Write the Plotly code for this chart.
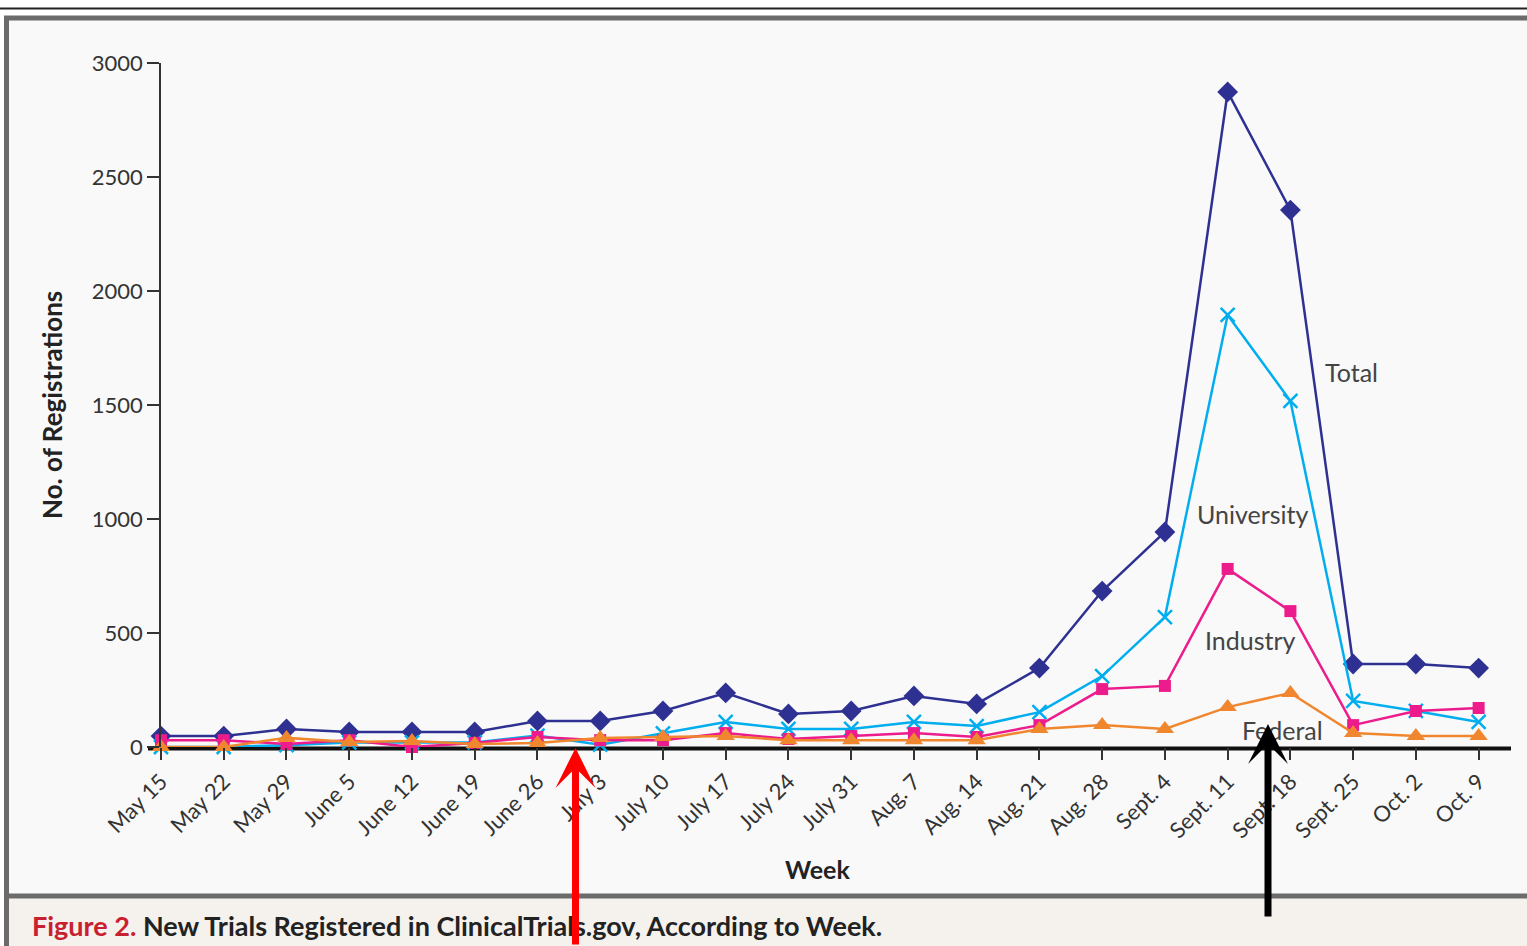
import plotly.graph_objects as go

weeks = ["May 15", "May 22", "May 29", "June 5", "June 12", "June 19", "June 26",
         "July 3", "July 10", "July 17", "July 24", "July 31", "Aug. 7", "Aug. 14",
         "Aug. 21", "Aug. 28", "Sept. 4", "Sept. 11", "Sept. 18", "Sept. 25",
         "Oct. 2", "Oct. 9"]
total = [48, 48, 79, 66, 66, 66, 114, 114, 158, 237, 145, 158, 224, 189, 346, 684,
         943, 2873, 2355, 364, 364, 346]
university = [0, 0, 8, 20, 20, 20, 50, 10, 60, 110, 79, 79, 110, 92, 153, 311,
              570, 1895, 1518, 202, 158, 110]
industry = [30, 30, 13, 30, 0, 18, 44, 30, 30, 61, 35, 48, 61, 44, 96, 254,
            268, 781, 596, 96, 158, 171]
federal = [0, 0, 40, 22, 26, 13, 18, 40, 44, 48, 30, 30, 30, 30, 79, 96,
           79, 175, 237, 61, 48, 48]
yticks = [0, 500, 1000, 1500, 2000, 2500, 3000]

W, H = 1527, 946
L, R, T, B = 161, 17, 63, 199
PW, PH = W - L - R, H - T - B


def px(x):
    return (x - L) / PW


def py(y):
    return (H - B - y) / PH


FONT = "Lato"
xi = list(range(len(weeks)))

fig = go.Figure()
fig.add_trace(go.Scatter(x=xi, y=total, mode="lines+markers", name="Total",
                         line=dict(color="#2e3192", width=2.5),
                         marker=dict(symbol="diamond", size=16, color="#2e3192"),
                         cliponaxis=False))
fig.add_trace(go.Scatter(x=xi, y=university, mode="lines+markers", name="University",
                         line=dict(color="#00aeef", width=2.5),
                         marker=dict(symbol="x-thin", size=14,
                                     line=dict(color="#00aeef", width=2.5)),
                         cliponaxis=False))
fig.add_trace(go.Scatter(x=xi, y=industry, mode="lines+markers", name="Industry",
                         line=dict(color="#ec1c8c", width=2.5),
                         marker=dict(symbol="square", size=12, color="#ec1c8c"),
                         cliponaxis=False))
fig.add_trace(go.Scatter(x=xi, y=federal, mode="lines+markers", name="Federal",
                         line=dict(color="#f0862e", width=2.5),
                         marker=dict(symbol="triangle-up", size=16, color="#f0862e"),
                         cliponaxis=False))

shapes = [
    # top rule
    dict(type="line", xref="paper", yref="paper", x0=px(0), x1=px(W), y0=py(8.5), y1=py(8.5),
         line=dict(color="#222222", width=2), layer="below"),
    # panel
    dict(type="rect", xref="paper", yref="paper", x0=px(6.5), x1=px(W + 20), y0=py(18), y1=py(H + 20),
         fillcolor="#f9f9f9", line=dict(color="#6b6b6b", width=5), layer="below"),
    # caption area
    dict(type="rect", xref="paper", yref="paper", x0=px(9), x1=px(W + 20), y0=py(898), y1=py(H + 20),
         fillcolor="#f5f2ee", line=dict(width=0), layer="below"),
    dict(type="line", xref="paper", yref="paper", x0=px(6.5), x1=px(W + 20), y0=py(896), y1=py(896),
         line=dict(color="#6b6b6b", width=5), layer="below"),
    # baseline
    dict(type="line", xref="paper", yref="paper", x0=px(148), x1=px(1511), y0=py(748.5), y1=py(748.5),
         line=dict(color="#111111", width=4), layer="below"),
]

annotations = [
    dict(x=18.98, y=1645, xref="x", yref="y", text="Total", showarrow=False,
         xanchor="center", font=dict(family=FONT, size=25, color="#444444")),
    dict(x=17.41, y=1022, xref="x", yref="y", text="University", showarrow=False,
         xanchor="center", font=dict(family=FONT, size=25, color="#444444")),
    dict(x=17.37, y=469, xref="x", yref="y", text="Industry", showarrow=False,
         xanchor="center", font=dict(family=FONT, size=25, color="#444444")),
    dict(x=17.88, y=75, xref="x", yref="y", text="Federal", showarrow=False,
         xanchor="center", font=dict(family=FONT, size=25, color="#444444")),
    dict(x=px(52), y=py(405), xref="paper", yref="paper", text="<b>No. of Registrations</b>",
         textangle=-90, showarrow=False, xanchor="center", yanchor="middle",
         font=dict(family=FONT, size=26, color="#222222")),
    dict(x=px(817), y=py(869), xref="paper", yref="paper", text="<b>Week</b>",
         showarrow=False, xanchor="center", yanchor="middle",
         font=dict(family=FONT, size=25, color="#222222")),
    dict(x=px(30), y=py(926), xref="paper", yref="paper", xanchor="left", yanchor="middle",
         text="<b><span style='color:#c8202f'>Figure 2.</span> New Trials Registered in ClinicalTrials.gov, According to Week.</b>",
         showarrow=False, font=dict(family=FONT, size=27, color="#222222")),
    # arrows
    dict(x=px(575.5), y=py(748), xref="paper", yref="paper", ax=0, ay=200, text="", showarrow=True,
         arrowhead=3, arrowsize=0.95, arrowwidth=7, arrowcolor="#ff0000"),
    dict(x=px(1268), y=py(724), xref="paper", yref="paper", ax=0, ay=194, text="", showarrow=True,
         arrowhead=3, arrowsize=0.95, arrowwidth=7, arrowcolor="#000000"),
]

fig.update_layout(
    width=W, height=H,
    margin=dict(l=L, r=R, t=T, b=B),
    paper_bgcolor="#ffffff",
    plot_bgcolor="rgba(0,0,0,0)",
    showlegend=False,
    shapes=shapes,
    annotations=annotations,
    font=dict(family=FONT, color="#333333"),
    xaxis=dict(range=[0, 21.5], tickmode="array", tickvals=xi, ticktext=weeks,
               tickangle=-45, ticks="outside", ticklen=12, tickwidth=1.5, tickcolor="#333333",
               tickfont=dict(family=FONT, size=22, color="#333333"),
               showgrid=False, zeroline=False, showline=False),
    yaxis=dict(range=[0, 3000], tickmode="array", tickvals=yticks,
               ticks="outside", ticklen=12, tickwidth=1.5, tickcolor="#333333",
               tickfont=dict(family=FONT, size=22, color="#333333"),
               showgrid=False, zeroline=False, showline=True, linecolor="#333333", linewidth=1.5),
)

fig.write_html("out.html", config={"displayModeBar": False},
               post_script="document.body.style.margin='0';")
